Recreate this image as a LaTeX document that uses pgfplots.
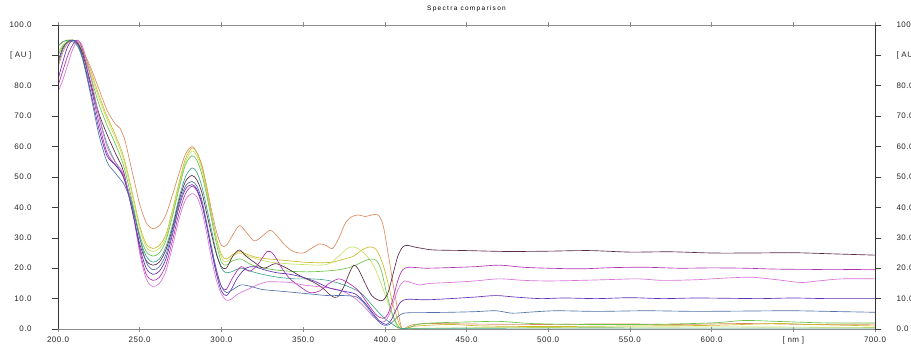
\documentclass[border=0pt]{standalone}
\usepackage{fontspec}
\usepackage{pgfplots}
\pgfplotsset{compat=1.18}
\setmainfont{Liberation Sans}
\newfontfamily\tickfont[LetterSpace=6]{Liberation Sans}
\newfontfamily\titlefont[LetterSpace=20]{Liberation Sans}

\definecolor{cOrange}{HTML}{DC8A5E}
\definecolor{cGold}{HTML}{CDB92A}
\definecolor{cLime}{HTML}{C4E060}
\definecolor{cGreen}{HTML}{68C448}
\definecolor{cTeal}{HTML}{40A48C}
\definecolor{cMaroon}{HTML}{582846}
\definecolor{cMagenta}{HTML}{B030B0}
\definecolor{cOrchid}{HTML}{DA72DA}
\definecolor{cPurple}{HTML}{6030B8}
\definecolor{cBlue}{HTML}{5070A8}

\pgfplotsset{
  specbase/.style={
    scale only axis, width=817pt, height=304pt,
    xmin=200, xmax=700, ymin=0, ymax=100,
  },
  lblfont/.style={font=\tickfont\fontsize{8}{9}\selectfont, text=black!85},
}

\begin{document}
\begin{tikzpicture}
% spectra and wavelength ticks
\begin{axis}[specbase, name=main,
  axis line style={draw=none},
  xtick={200,250,...,700},
  xticklabels={200.0,250.0,300.0,350.0,400.0,450.0,500.0,550.0,600.0,[ nm ],700.0},
  xtick pos=both, xticklabel pos=lower,
  tick align=center, major tick length=5pt,
  tick style={draw=black!45, line width=0.6pt},
  ytick=\empty,
  xticklabel style={lblfont, yshift=-1.5pt},
  title={\titlefont\fontsize{6.5}{8}\selectfont Spectra comparison},
  title style={at={(0.5,1)}, anchor=base, yshift=8.3pt},
  every axis plot/.append style={line width=0.65pt, smooth, tension=0.5},
]
% orange
\addplot[cOrange] coordinates {(200,86)(203,91)(206,94)(209,95)(212,94.5)(215,92)(220,86)(225,79)(230,72)(235,67.5)(238,66)(241,62)(244,55)(247,48)(250,41)(254,35)(258,33)(262,34)(266,37.5)(270,44)(274,51)(278,57.5)(282,60)(285,58)(288,54)(291,47)(294,39)(297,32)(300,27.5)(303,27.5)(307,31)(311,34)(315,32)(320,29)(325,30.5)(330,32.5)(335,30)(339,27.5)(344,25.5)(350,25)(355,26.5)(360,28)(364,27.5)(368,26.5)(372,30)(376,35)(380,37)(384,37.5)(388,37)(392,37.5)(396,37.5)(399,34)(402,25)(405,15)(408,6)(410.5,0)(413,0.5)(418,1.5)(430,1.8)(460,1.6)(500,1.5)(540,1.7)(580,1.5)(620,1.8)(660,1.5)(700,1.6)};
% gold
\addplot[cGold] coordinates {(200,93)(203,94.5)(206,95)(209,95)(212,94)(215,91.5)(220,85)(225,77)(230,70)(235,64)(240,57)(245,46)(250,34)(254,28)(258,26.5)(262,27.5)(266,31)(270,39)(274,48)(278,56)(282,59.5)(285,58)(288,53.5)(291,46)(294,37.5)(297,30)(300,24.5)(303,23)(307,24.5)(311,25.5)(316,24.5)(322,23.5)(330,23)(340,22.5)(350,22)(360,21.8)(368,22)(375,23)(381,24)(386,26)(391,27)(395,26)(399,21)(402,15)(405,8)(408,3)(410.5,0)(415,0.5)(420,1)(440,1.5)(460,1)(500,0.8)(550,1)(600,1.2)(640,1.8)(660,1.5)(700,1)};
% lime
\addplot[cLime] coordinates {(200,91)(203,93.5)(206,95)(209,95)(212,94)(215,91)(220,84)(225,76)(230,69)(235,63)(240,56)(245,45)(250,33)(254,27)(258,25.5)(262,26.5)(266,30)(270,38)(274,47)(278,55)(282,58.5)(285,57)(288,52.5)(291,45)(294,37)(297,29.5)(300,23.5)(303,22)(307,24)(311,25)(316,24)(322,23)(330,22)(340,21.5)(350,21.2)(360,21)(366,21.5)(372,24)(377,26.5)(381,27)(385,26)(389,24)(393,21)(397,16)(401,10)(405,4)(408.5,0)(412,0)(430,0.3)(500,0.5)(600,0.7)(700,0.5)};
% green
\addplot[cGreen] coordinates {(200,90)(203,93)(206,94.5)(209,95)(212,94)(215,91)(220,83)(225,74)(230,67)(235,61)(240,54)(245,43)(250,31)(254,25.5)(258,24)(262,25)(266,29)(270,37)(274,46)(278,54)(282,57)(285,55.5)(288,51)(291,44)(294,36)(297,28)(300,22)(303,21)(307,22.5)(312,23)(317,21.5)(322,20.5)(332,19.5)(342,19)(352,18.8)(362,19)(372,19.5)(380,20.5)(386,22)(391,23)(395,22.5)(398,19)(401,12)(404,6)(407,2)(410,0)(415,0.5)(420,1.5)(430,2)(450,2.3)(470,2.5)(490,1.8)(520,1.5)(560,1.5)(600,2)(620,2.8)(640,2.5)(670,2)(700,2)};
% teal
\addplot[cTeal] coordinates {(200,93)(203,94.5)(206,95)(209,94.5)(212,93)(215,89)(220,80)(225,70)(230,61)(235,55)(240,50)(245,42)(250,30)(254,24)(258,22)(262,23)(266,27)(270,34)(274,43)(278,50)(282,53)(285,51.5)(288,47)(291,40)(294,32.5)(297,25)(300,20)(303,18.5)(307,19)(312,20)(318,19)(325,18)(335,17)(345,16.5)(355,16.5)(365,16)(375,14.5)(385,12)(392,8)(397,5)(401,3)(405,1.5)(409,0.3)(420,0.2)(500,0.3)(600,0.3)(700,0.3)};
% maroon
\addplot[cMaroon] coordinates {(200,88)(203,92.5)(206,94.5)(209,95)(212,94)(215,90.5)(220,81)(225,71)(230,64)(235,58)(240,52)(245,40)(250,28)(254,22.5)(258,21)(262,22)(266,26)(270,33)(274,42)(278,48.5)(282,50.5)(285,49)(288,45)(291,38)(294,31)(297,24.5)(300,20.5)(303,20)(307,24)(311,26)(315,24)(320,22)(326,20)(333,21.5)(340,20)(348,17.5)(356,15.5)(362,13.5)(367,11)(371,10.5)(375,14)(378,18)(381,21)(384,19.5)(388,15)(392,11)(396,9.5)(399,9.5)(402,12)(405,18)(408,24)(411,27)(414,27.5)(418,27)(423,26.5)(430,26)(450,25.8)(475,25.5)(500,25.6)(525,25.8)(550,25.3)(575,25.4)(600,25)(625,25)(650,25.1)(675,24.7)(700,24.3)};
% magenta
\addplot[cMagenta] coordinates {(200,80)(203,85)(206,90)(209,93.5)(212,95)(215,92)(220,80)(225,68)(230,58)(235,54)(240,50.5)(245,41)(250,26)(254,18)(258,16)(262,17)(266,21)(270,29)(274,38)(278,44.5)(282,47)(285,45.5)(288,41)(291,34)(294,26)(297,19)(300,14)(303,13)(307,17)(312,20.5)(317,19)(322,21)(328,25.5)(332,24.5)(337,20)(342,16.5)(348,14)(354,12)(360,12.5)(366,15)(372,16.5)(378,15)(384,12.5)(390,8)(395,4.5)(399,3.5)(402,5)(405,10)(408,16)(411,19.5)(415,20.3)(425,20)(440,20.2)(455,20.5)(470,21)(485,20.3)(500,20)(520,19.8)(540,20.2)(560,20.3)(580,20)(600,20.1)(620,20)(640,19.7)(660,19.6)(680,19.6)(700,19.5)};
% orchid
\addplot[cOrchid] coordinates {(200,78)(203,82)(206,87)(209,92)(212,94.5)(215,93)(220,83)(225,70)(230,60)(235,55)(240,51)(245,41)(250,25)(254,16.5)(258,14)(262,15)(266,19)(270,27)(274,36)(278,42.5)(282,44.5)(285,43.5)(288,39)(291,31.5)(294,23)(297,16)(300,11.5)(303,9.5)(306,9.8)(310,11.5)(316,13)(322,14.5)(328,15.5)(335,15.5)(342,15.3)(350,14.5)(358,14)(366,13.5)(374,12.5)(382,10)(388,7)(393,4)(397,2.5)(400,2.5)(403,5)(406,10)(409,14)(412,15.8)(416,15.3)(421,14.5)(428,15)(440,15.3)(455,15.8)(470,16.5)(485,16)(500,15.8)(520,16)(540,16.3)(555,16.5)(570,16)(590,16.2)(610,16.8)(625,17)(640,16.2)(655,15.3)(665,15.8)(680,16.5)(700,16.5)};
% purple
\addplot[cPurple] coordinates {(200,82)(203,88)(206,93)(209,95)(212,94)(215,89.5)(220,78)(225,66)(230,57)(235,54)(240,50)(245,40)(250,27)(254,20)(258,18)(262,19)(266,23)(270,31)(274,40)(278,46)(282,47.5)(285,46)(288,41.5)(291,34)(294,25.5)(297,18)(300,12.5)(303,11)(306,13)(310,17)(315,20)(320,20.5)(326,19.5)(334,18.5)(342,18)(350,17)(358,15.5)(366,13.5)(374,12.5)(382,11.5)(388,8.5)(393,5)(397,2.5)(401,1.5)(404,3)(407,6.5)(410,9)(414,9.8)(425,9.6)(440,10)(455,10.5)(468,11)(480,10.5)(495,10)(510,10.2)(530,10)(550,10.3)(570,10)(590,10.2)(610,10.1)(630,10)(650,10.2)(670,10)(700,10)};
% blue
\addplot[cBlue] coordinates {(200,87)(203,92)(206,94.5)(209,95)(212,93.5)(215,89)(220,77)(225,64)(230,55)(234,52)(237,50)(241,47)(245,41)(250,30)(254,22)(258,19.5)(262,20.5)(266,24.5)(270,32)(274,41)(278,47)(282,48.5)(285,47)(288,42.5)(291,35)(294,27)(297,19.5)(300,14)(303,12)(307,13)(312,14.5)(318,14)(325,13)(335,12.5)(345,12)(355,11.5)(365,11)(375,11)(383,10.5)(388,8)(393,4.5)(397,2)(400,1.2)(403,1.5)(406,3)(409,4.5)(413,5.3)(425,5.4)(440,5.5)(455,5.7)(468,6)(478,5.2)(490,5.6)(505,6)(530,5.8)(560,6)(590,5.8)(620,5.9)(650,6)(680,5.7)(700,5.5)};
\end{axis}

% absorbance scale, left labels and frame
\begin{axis}[specbase, clip=false,
  axis line style={draw=none},
  xtick=\empty,
  ytick={0,10,...,100},
  yticklabels={0.0,10.0,20.0,30.0,40.0,50.0,60.0,70.0,80.0,{[ AU ]},100.0},
  ytick pos=both, yticklabel pos=left,
  tick align=outside, major tick length=6pt,
  tick style={draw=black!75, line width=0.6pt},
  yticklabel style={lblfont, xshift=-17pt},
]
\draw[black!45, line width=0.7pt] (rel axis cs:0,1) -- (rel axis cs:1,1);
\draw[black!45, line width=0.7pt] (rel axis cs:0,0) -- (rel axis cs:1,0);
\draw[black!80, line width=0.7pt] (rel axis cs:0,0) -- (rel axis cs:0,1);
\draw[black!80, line width=0.7pt] (rel axis cs:1,0) -- (rel axis cs:1,1);
\end{axis}

% right-hand labels
\begin{axis}[specbase,
  axis line style={draw=none},
  xtick=\empty,
  ytick={0,10,...,100},
  yticklabels={0.0,10.0,20.0,30.0,40.0,50.0,60.0,70.0,80.0,{[ AU ]},100.0},
  ytick pos=right, yticklabel pos=right,
  tick align=outside, major tick length=6pt,
  tick style={draw=none},
  yticklabel style={lblfont, xshift=12pt},
]
\end{axis}

\pgfresetboundingbox
\path[use as bounding box] ([xshift=-58pt,yshift=-14pt]main.south west) rectangle ([xshift=36pt,yshift=25pt]main.north east);
\end{tikzpicture}
\end{document}
